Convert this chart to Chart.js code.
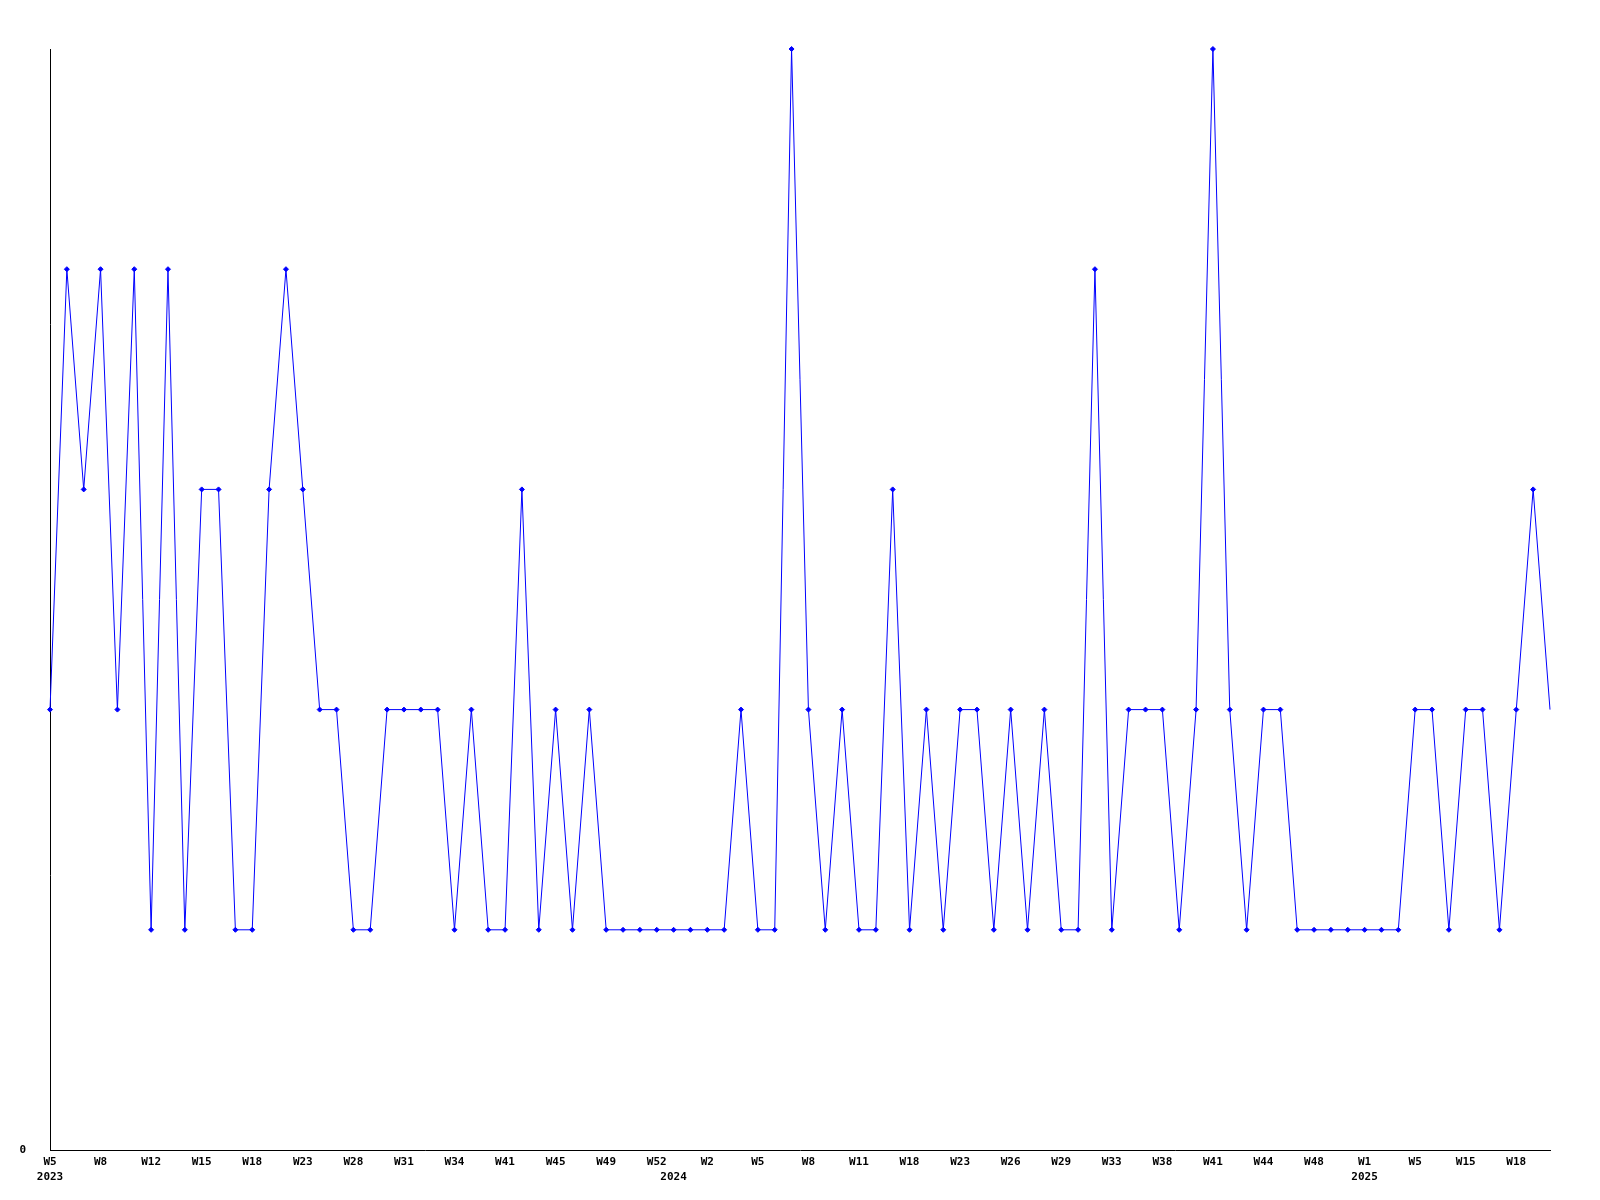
<!DOCTYPE html>
<html>
<head>
<meta charset="utf-8">
<script src="https://cdn.jsdelivr.net/npm/chart.js@4/dist/chart.umd.min.js"></script>
<style>
  html, body { margin: 0; padding: 0; background: #fff; }
  #wrap { width: 1600px; height: 1200px; }
</style>
</head>
<body>
<div id="wrap"><canvas id="chart" width="1600" height="1200"></canvas></div>
<script>
// week labels (only every third one is printed on the axis)
const weeks = [
  'W5','W6','W7','W8','W9','W11','W12','W13','W14','W15','W16','W17','W18','W20','W21','W23','W25','W26',
  'W28','W29','W30','W31','W32','W33','W34','W36','W38','W41','W42','W43','W45','W46','W47','W49','W50','W51',
  'W52','W1','W1','W2','W3','W4','W5','W6','W7','W8','W9','W10','W11','W13','W15','W18','W19','W21',
  'W23','W24','W25','W26','W27','W28','W29','W30','W32','W33','W35','W36','W38','W39','W40','W41','W42','W43',
  'W44','W45','W46','W48','W50','W52','W1','W2','W4','W5','W8','W12','W15','W16','W17','W18','W19','W20'
]

// year shown under the first week of each year
const years = { 0: '2023', 37: '2024', 78: '2025' }

const counts = [
  2, 4, 3, 4, 2, 4, 1, 4, 1, 3, 3, 1, 1, 3, 4, 3, 2, 2,
  1, 1, 2, 2, 2, 2, 1, 2, 1, 1, 3, 1, 2, 1, 2, 1, 1, 1,
  1, 1, 1, 1, 1, 2, 1, 1, 5, 2, 1, 2, 1, 1, 3, 1, 2, 1,
  2, 2, 1, 2, 1, 2, 1, 1, 4, 1, 2, 2, 2, 1, 2, 5, 2, 1,
  2, 2, 1, 1, 1, 1, 1, 1, 1, 2, 2, 1, 2, 2, 1, 2, 3, 2
]

const tickFont = { family: 'DejaVu Sans Mono', size: 11, weight: 'bold', lineHeight: 1.4 }

const ctx = document.getElementById('chart').getContext('2d')
new Chart(ctx, {
  type: 'line',
  data: {
    labels: weeks,
    datasets: [{
      data: counts,
      borderColor: '#0000ff',
      backgroundColor: '#0000ff',
      borderWidth: 1,
      tension: 0,
      pointStyle: 'rectRot',
      pointRadius: (c) => c.dataIndex === counts.length - 1 ? 0 : 2.5,
      pointBorderWidth: 1,
      clip: false
    }]
  },
  options: {
    responsive: false,
    animation: false,
    layout: { padding: { top: 49, right: 50, left: 0, bottom: 0 } },
    plugins: {
      legend: { display: false },
      tooltip: { enabled: false }
    },
    scales: {
      x: {
        offset: false,
        grid: { display: false, drawTicks: false },
        border: { color: '#000', width: 1 },
        afterFit: (scale) => { scale.height = 50 },
        ticks: {
          autoSkip: false,
          maxRotation: 0,
          minRotation: 0,
          padding: 4,
          color: '#000',
          font: tickFont,
          callback: function (value, index) {
            const wk = index % 3 === 0 ? weeks[index] : ''
            if (years[index]) return [wk, years[index]]
            return wk
          }
        }
      },
      y: {
        min: 0,
        max: 5,
        grid: { display: false, drawTicks: false },
        border: { color: '#000', width: 1 },
        afterFit: (scale) => { scale.width = 50 },
        ticks: {
          stepSize: 1,
          padding: 24,
          color: '#000',
          font: tickFont,
          callback: (value) => value === 0 ? '0' : ''
        }
      }
    }
  }
})
</script>
</body>
</html>
